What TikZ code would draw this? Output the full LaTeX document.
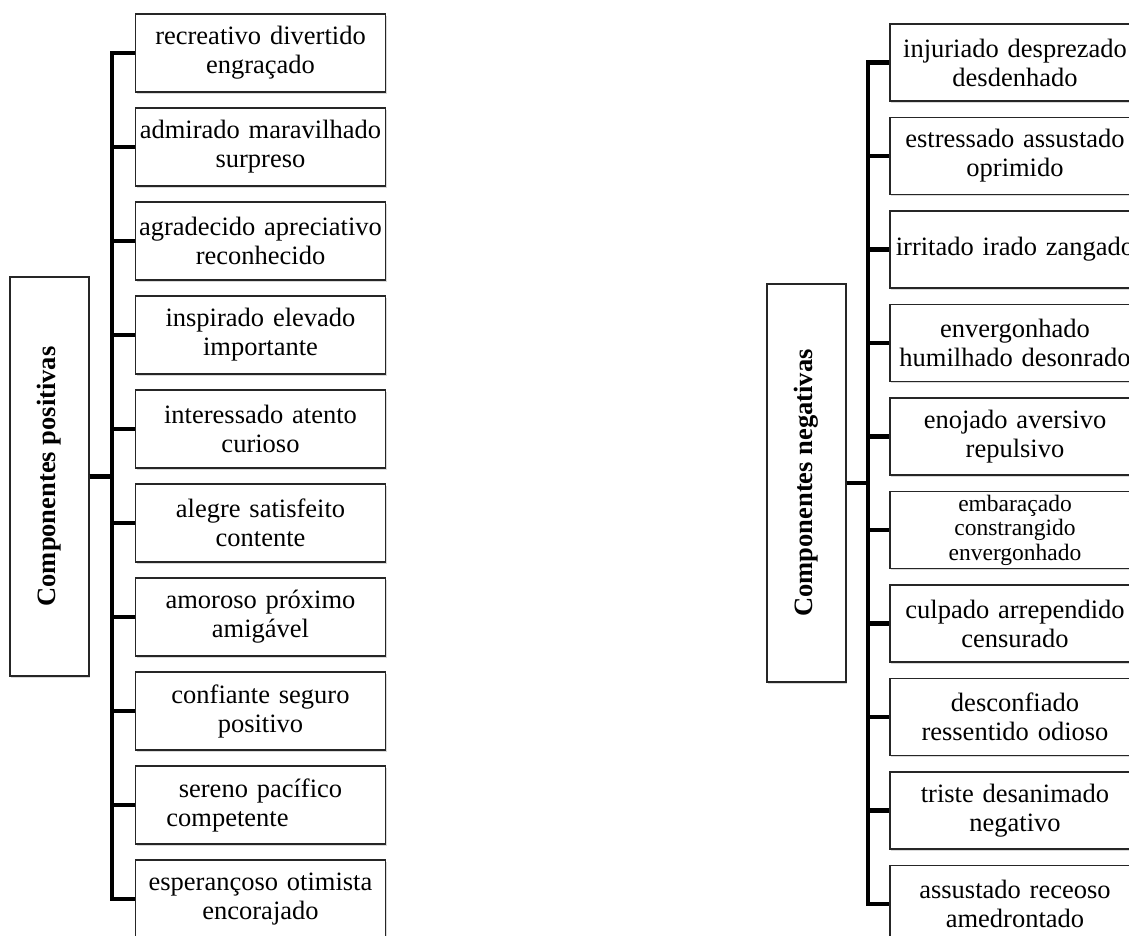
\documentclass[tikz,border=0pt]{standalone}
\usepackage{fontspec}
\setmainfont{Liberation Serif}
\usetikzlibrary{shadows}
\begin{document}
\begin{tikzpicture}[x=1pt,y=-1pt,
  every node/.style={font=\fontsize{26.5}{29}\selectfont},
  leafbox/.style={draw=black!85, line width=1.6pt, fill=white,
    drop shadow={opacity=0.3, shadow xshift=1.2pt, shadow yshift=-1.8pt},
    text width=244pt, inner xsep=3pt, inner ysep=2pt, align=center},
  lbox/.style={leafbox, minimum height=78pt},
  rbox/.style={leafbox, minimum height=77pt},
  rootbox/.style={draw=black!85, line width=1.6pt, fill=white,
    drop shadow={opacity=0.3, shadow xshift=1.2pt, shadow yshift=-1.8pt},
    minimum width=79pt, inner sep=0pt},
  roottext/.style={rotate=90, font=\bfseries\fontsize{26.5}{29}\selectfont},
  link/.style={line width=4.8pt, line join=miter}
]
\useasboundingbox (0,0) rectangle (1129,935);

% ---------- positive components ----------
\node[rootbox, minimum height=399pt] (rootP) at (49.5,476.5) {};
\node[roottext] (rootPtext) at (rootP.center) {Componentes positivas};
\coordinate (jP) at (112,476.5);

\node[lbox] (p1)  at (260.5,53)  {recreativo divertido\\engraçado};
\node[lbox] (p2)  at (260.5,147) {admirado maravilhado\\surpreso};
\node[lbox] (p3)  at (260.5,241) {agradecido apreciativo\\reconhecido};
\node[lbox] (p4)  at (260.5,335) {inspirado elevado\\importante};
\node[lbox] (p5)  at (260.5,429) {interessado atento\\curioso};
\node[lbox] (p6)  at (260.5,523) {alegre satisfeito\\contente};
\node[lbox] (p7)  at (260.5,617) {amoroso próximo\\amigável};
\node[lbox] (p8)  at (260.5,711) {confiante seguro\\positivo};
\node[lbox] (p9)  at (260.5,805) {sereno pacífico\\competente\rule{66pt}{0pt}};
\node[lbox] (p10) at (260.5,899) {esperançoso otimista\\encorajado};

\foreach \c in {p1,p2,p3,p4,p5,p6,p7,p8,p9,p10}
  \draw[link] (rootP.east) -- (jP) |- (\c.west);

% ---------- negative components ----------
\node[rootbox, minimum height=398pt] (rootN) at (806.5,483) {};
\node[roottext] (rootNtext) at (rootN.center) {Componentes negativas};
\coordinate (jN) at (868,483);

\node[rbox] (n1)  at (1015,62.5)  {injuriado desprezado\\desdenhado};
\node[rbox] (n2)  at (1015,156)   {estressado assustado\\oprimido};
\node[rbox] (n3)  at (1015,249.5) {irritado irado zangado};
\node[rbox] (n4)  at (1015,343)   {envergonhado\\humilhado desonrado};
\node[rbox] (n5)  at (1015,436.5) {enojado aversivo\\repulsivo};
\node[rbox, font=\fontsize{23.5}{24.5}\selectfont] (n6) at (1015,530)
  {embaraçado\\constrangido\\envergonhado};
\node[rbox] (n7)  at (1015,623.5) {culpado arrependido\\censurado};
\node[rbox] (n8)  at (1015,717)   {desconfiado\\ressentido odioso};
\node[rbox] (n9)  at (1015,810.5) {triste desanimado\\negativo};
\node[rbox] (n10) at (1015,904)   {assustado receoso\\amedrontado};

\foreach \c in {n1,n2,n3,n4,n5,n6,n7,n8,n9,n10}
  \draw[link] (rootN.east) -- (jN) |- (\c.west);
\end{tikzpicture}
\end{document}
